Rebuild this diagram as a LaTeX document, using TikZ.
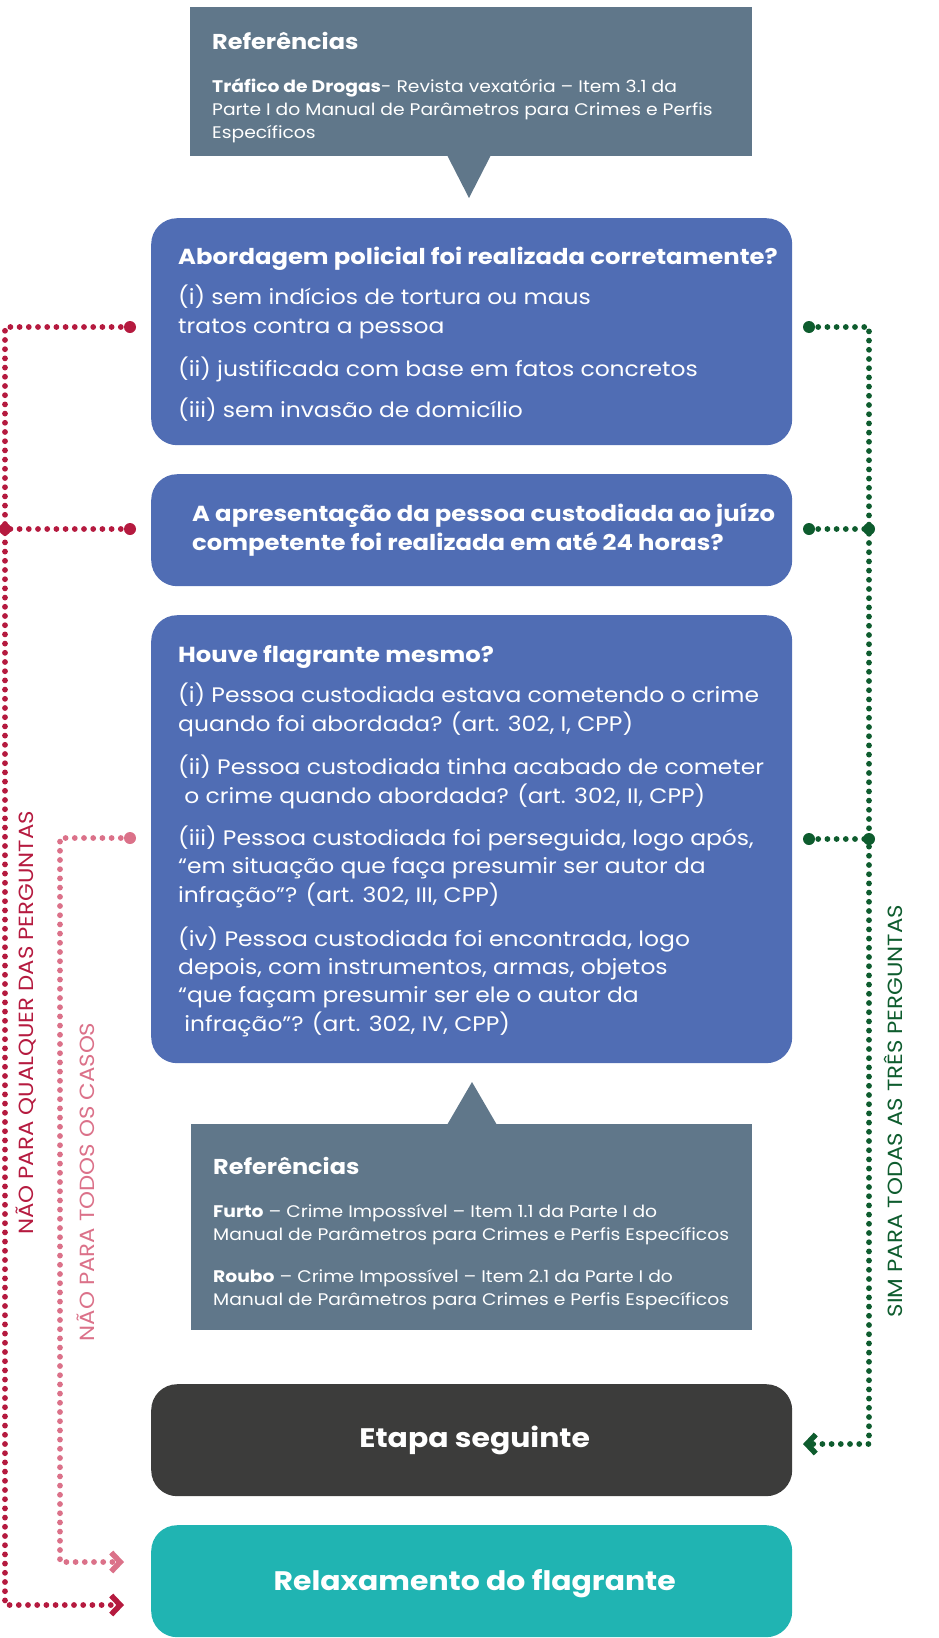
\documentclass[tikz,border=0pt]{standalone}
\usepackage{fontspec}
\setmainfont{Poppins}[FakeStretch=1.115]
\usetikzlibrary{arrows.meta}
\definecolor{refgray}{HTML}{60778A}
\definecolor{boxblue}{HTML}{506DB4}
\definecolor{nored}{HTML}{B51A3F}
\definecolor{nopink}{HTML}{DB7189}
\definecolor{yesgreen}{HTML}{0E5C2E}
\definecolor{darkbox}{HTML}{3C3C3B}
\definecolor{tealbox}{HTML}{20B4B2}
\tikzset{
  refbox/.style={fill=refgray, draw=none, anchor=north west, inner sep=0pt},
  qbox/.style={fill=boxblue, draw=none, rounded corners=26pt, anchor=north west, inner sep=0pt},
  endbox/.style={draw=none, rounded corners=26pt, anchor=north west, inner sep=0pt},
  txt/.style={text=white, anchor=base west, align=left, inner sep=0pt},
  body/.style={txt, font=\fontsize{21}{28.3}\selectfont},
  qtitle/.style={txt, font=\fontsize{21.8}{29}\selectfont\bfseries},
  reftitle/.style={txt, font=\fontsize{21.5}{24}\selectfont\bfseries},
  reftext/.style={txt, font=\fontsize{16.8}{22.6}\selectfont},
  dotline/.style={line width=5.8pt, line cap=round, dash pattern=on 0pt off 9.2pt},
  enddot/.style={circle, inner sep=0pt, minimum size=12pt},
  vlabel/.style={rotate=90, font=\fontsize{20.5}{22}\selectfont, inner sep=0pt},
  endtxt/.style={text=white, font=\fontsize{26.8}{30}\selectfont\bfseries},
  chev/.style={-{Straight Barb[length=9pt,width=19pt,line width=5.5pt]}}
}
\begin{document}
\begin{tikzpicture}[x=1pt,y=-1pt]
\useasboundingbox (0,0) rectangle (938,1638);
% top references box
\node[refbox, minimum width=562, minimum height=149] (ref1) at (190,7) {};
\fill[refgray] (447,155) -- (491,155) -- (469,198) -- cycle;
\node[reftitle] (ref1t) at (212,49) {Referências};
\node[reftext] (ref1a) at (212,138) {\textbf{Tráfico de Drogas}- Revista vexatória – Item 3.1 da\\Parte I do Manual de Parâmetros para Crimes e Perfis\\Específicos};
% question boxes
\node[qbox, minimum width=641, minimum height=227] (q1) at (151,218) {};
\node[qtitle] (q1t) at (178,264) {Abordagem policial foi realizada corretamente?};
\node[body] (q1a) at (178,333) {(i) sem indícios de tortura ou maus\\tratos contra a pessoa};
\node[body] (q1b) at (178,376) {(ii) justificada com base em fatos concretos};
\node[body] (q1c) at (178,417) {(iii) sem invasão de domicílio};

\node[qbox, minimum width=641, minimum height=112] (q2) at (151,474) {};
\node[qtitle] (q2t) at (192,550) {A apresentação da pessoa custodiada ao juízo\\competente foi realizada em até 24 horas?};

\node[qbox, minimum width=641, minimum height=448] (q3) at (151,615) {};
\node[qtitle] (q3t) at (178,662) {Houve flagrante mesmo?};
\node[body] (q3a) at (178,731) {(i) Pessoa custodiada estava cometendo o crime\\quando foi abordada? (art. 302, I, CPP)};
\node[body] (q3b) at (178,803) {(ii) Pessoa custodiada tinha acabado de cometer\\\ o crime quando abordada? (art. 302, II, CPP)};
\node[body] (q3c) at (178,902) {(iii) Pessoa custodiada foi perseguida, logo após,\\“em situação que faça presumir ser autor da\\infração”? (art. 302, III, CPP)};
\node[body] (q3d) at (178,1031) {(iv) Pessoa custodiada foi encontrada, logo\\depois, com instrumentos, armas, objetos\\“que façam presumir ser ele o autor da\\\ infração”? (art. 302, IV, CPP)};

% bottom references box
\node[refbox, minimum width=561, minimum height=206] (ref2) at (191,1124) {};
\fill[refgray] (447,1125) -- (497,1125) -- (472,1082) -- cycle;
\node[reftitle] (ref2t) at (213,1174) {Referências};
\node[reftext] (ref2a) at (213,1240) {\textbf{Furto} – Crime Impossível – Item 1.1 da Parte I do\\Manual de Parâmetros para Crimes e Perfis Específicos};
\node[reftext] (ref2b) at (213,1305) {\textbf{Roubo} – Crime Impossível – Item 2.1 da Parte I do\\Manual de Parâmetros para Crimes e Perfis Específicos};

% end boxes
\node[endbox, fill=darkbox, minimum width=641, minimum height=112] (etapa) at (151,1384) {};
\node[endtxt] (etapat) at ([xshift=3pt]etapa.center) {Etapa seguinte};
\node[endbox, fill=tealbox, minimum width=641, minimum height=112] (relax) at (151,1525) {};
\node[endtxt] (relaxt) at ([xshift=3pt,yshift=-2pt]relax.center) {Relaxamento do flagrante};

% connector coordinates
\coordinate (r1) at (130,327);
\coordinate (r2) at (130,529);
\coordinate (rl1) at (5,327);
\coordinate (rl2) at (5,529);
\coordinate (rl3) at (5,1605);
\coordinate (rend) at (124,1605);
\coordinate (p1) at (130,838);
\coordinate (pl1) at (60,838);
\coordinate (pl2) at (60,1562);
\coordinate (pend) at (124,1562);
\coordinate (g1) at (809,327);
\coordinate (g2) at (809,529);
\coordinate (g3) at (809,839);
\coordinate (gl1) at (869,327);
\coordinate (gl2) at (869,529);
\coordinate (gl3) at (869,839);
\coordinate (gl4) at (869,1444);
\coordinate (gend) at (803,1444);

% red
\draw[nored, dotline] (r1) -- (rl1) -- (rl3) -- ([xshift=-8pt]rend);
\draw[nored, dotline] (r2) -- (rl2);
\draw[nored, chev] ([xshift=-4pt]rend) -- (rend);
\node[enddot, fill=nored] at (r1) {};
\node[enddot, fill=nored] at (r2) {};
\node[enddot, fill=nored] at (rl2) {};
% pink
\draw[nopink, dotline] (p1) -- (pl1) -- (pl2) -- ([xshift=-8pt]pend);
\draw[nopink, chev] ([xshift=-4pt]pend) -- (pend);
\node[enddot, fill=nopink] at (p1) {};
% green
\draw[yesgreen, dotline] (g1) -- (gl1) -- (gl4) -- ([xshift=8pt]gend);
\draw[yesgreen, dotline] (g2) -- (gl2);
\draw[yesgreen, dotline] (g3) -- (gl3);
\draw[yesgreen, chev] ([xshift=4pt]gend) -- (gend);
\node[enddot, fill=yesgreen] at (g1) {};
\node[enddot, fill=yesgreen] at (g2) {};
\node[enddot, fill=yesgreen] at (g3) {};
\node[enddot, fill=yesgreen] at (gl2) {};
\node[enddot, fill=yesgreen] at (gl3) {};

% labels
\node[vlabel, text=nored] (lred) at (26,1023) {NÃO PARA QUALQUER DAS PERGUNTAS};
\node[vlabel, text=nopink] (lpink) at (86,1182) {NÃO PARA TODOS OS CASOS};
\node[vlabel, text=yesgreen] (lgreen) at (893,1111) {SIM PARA TODAS AS TRÊS PERGUNTAS};
\end{tikzpicture}
\end{document}
